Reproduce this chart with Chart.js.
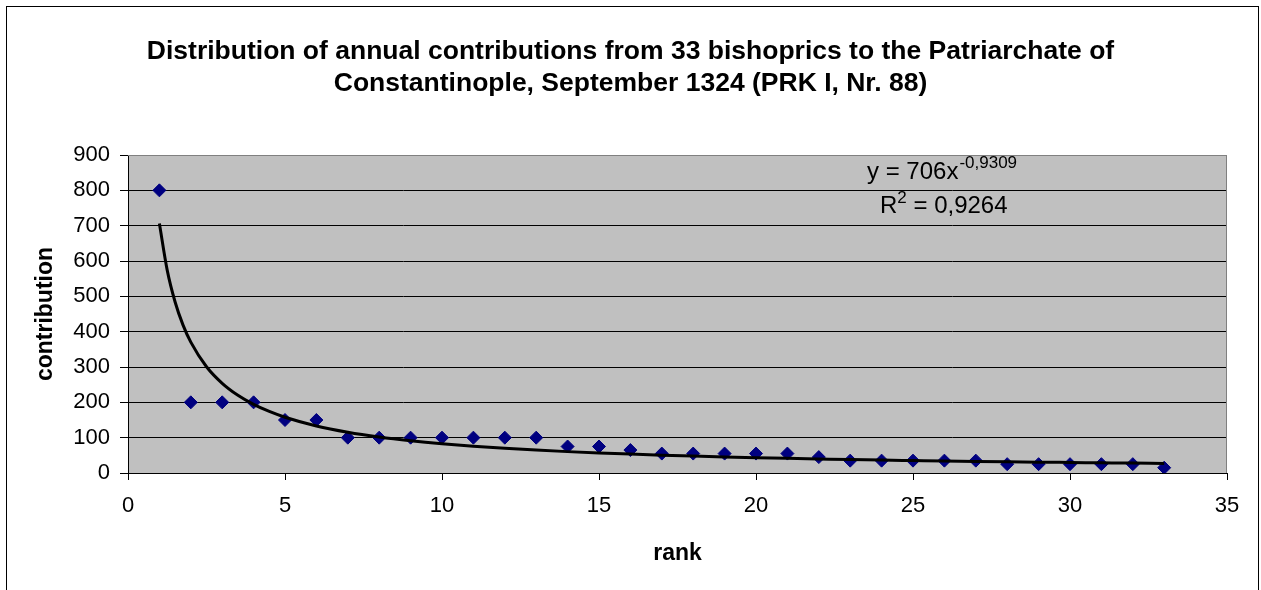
<!DOCTYPE html>
<html><head><meta charset="utf-8">
<script src="https://cdn.jsdelivr.net/npm/chart.js@4.4.1/dist/chart.umd.min.js"></script>
<style>html,body{margin:0;padding:0;background:#fff;overflow:hidden}</style>
</head><body><canvas id="c" width="1261" height="590"></canvas>
<script>
const ranks = [1,2,3,4,5,6,7,8,9,10,11,12,13,14,15,16,17,18,19,20,21,22,23,24,25,26,27,28,29,30,31,32,33];
const contributions = [800,200,200,200,150,150,100,100,100,100,100,100,100,75,75,65,55,55,55,55,55,45,35,35,35,35,35,25,25,25,25,25,15];
const trendRanks = [1,1.25,1.5,1.75,2,2.5,3,3.5,4,4.5,5,6,7,8,9,10,11,12,13,14,15,16,17,18,19,20,21,22,23,24,25,26,27,28,29,30,31,32,33];
const trendValues = [706,573.5,484.0,419.3,370.3,300.8,253.9,219.9,194.2,174.1,157.8,133.2,115.4,101.9,91.3,82.7,75.7,69.9,64.8,60.5,56.8,53.5,50.5,47.9,45.5,43.4,41.5,39.8,38.1,36.6,35.3,34.0,32.8,31.7,30.7,29.8,28.9,28.0,27.2];
const xTickValues = [0,5,10,15,20,25,30,35];
const yTickValues = [0,100,200,300,400,500,600,700,800,900];
const titleLines = ['Distribution of annual contributions from 33 bishoprics to the Patriarchate of','Constantinople, September 1324 (PRK I, Nr. 88)'];
const xTitle = 'rank';
const yTitle = 'contribution';
const equationText = 'y = 706x';
const equationExp = '-0,9309';
const r2Label = 'R';
const r2Exp = '2';
const r2Value = ' = 0,9264';

const FONT = "'Liberation Sans', Arial, sans-serif";

const decorPlugin = {
  id:'decor',
  beforeDraw(chart){const {ctx,chartArea:a}=chart;ctx.save();ctx.fillStyle='#C0C0C0';ctx.fillRect(a.left,a.top,a.right-a.left,a.bottom-a.top);ctx.restore();},
  beforeDatasetsDraw(chart){const {ctx,chartArea:a}=chart;ctx.save();ctx.strokeStyle='#808080';ctx.lineWidth=1;ctx.beginPath();ctx.moveTo(a.left,a.top+0.5);ctx.lineTo(a.right-0.5,a.top+0.5);ctx.lineTo(a.right-0.5,a.bottom);ctx.stroke();ctx.restore();},
  afterDraw(chart){const ctx=chart.ctx;ctx.save();
    ctx.strokeStyle='#000';ctx.lineWidth=1;ctx.strokeRect(6.5,6.5,1252,700);
    ctx.fillStyle='#000';
    ctx.textAlign='center';ctx.textBaseline='middle';
    ctx.font='bold 26.5px '+FONT;
    titleLines.forEach((t,i)=>ctx.fillText(t,630.5,52+i*32));
    ctx.textAlign='left';ctx.textBaseline='alphabetic';
    ctx.font='24px '+FONT;ctx.fillText(equationText,867,179);let w=ctx.measureText(equationText).width;
    ctx.font='17px '+FONT;ctx.fillText(equationExp,867+w+1,168);
    ctx.font='24px '+FONT;ctx.fillText(r2Label,880,213);w=ctx.measureText(r2Label).width;
    ctx.font='17px '+FONT;ctx.fillText(r2Exp,880+w,203);const w2=ctx.measureText(r2Exp).width;
    ctx.font='24px '+FONT;ctx.fillText(r2Value,880+w+w2,213);
    ctx.restore();}
};

new Chart(document.getElementById('c'),{
  type:'scatter',
  data:{datasets:[
    {label:'trend',data:trendRanks.map((x,i)=>({x,y:trendValues[i]})),showLine:true,borderColor:'#000',borderWidth:3,pointRadius:0,cubicInterpolationMode:'monotone',order:0},
    {label:'contribution',data:ranks.map((x,i)=>({x,y:contributions[i]})),pointStyle:'rectRot',pointRadius:6.5,backgroundColor:'#000080',borderColor:'#000080',borderWidth:1,showLine:false,order:1}
  ]},
  options:{
    responsive:false,animation:false,devicePixelRatio:1,
    layout:{padding:{left:10,right:34,top:155,bottom:17}},
    plugins:{legend:{display:false},tooltip:{enabled:false},title:{display:false}},
    scales:{
      x:{type:'linear',min:xTickValues[0],max:xTickValues[xTickValues.length-1],
        afterFit(s){s.height=100;},
        afterBuildTicks(s){s.ticks=xTickValues.map(v=>({value:v}));},
        ticks:{color:'#000',font:{family:FONT,size:22},padding:13},
        grid:{drawOnChartArea:false,drawTicks:true,tickLength:7,tickColor:'#000'},
        border:{display:true,color:'#000',width:1},
        title:{display:true,text:xTitle,color:'#000',font:{family:FONT,size:23,weight:'bold',lineHeight:1.2},padding:{top:0,bottom:6}}},
      y:{type:'linear',min:yTickValues[0],max:yTickValues[yTickValues.length-1],
        afterFit(s){s.width=118;},
        afterBuildTicks(s){s.ticks=yTickValues.map(v=>({value:v}));},
        ticks:{color:'#000',font:{family:FONT,size:22},padding:10},
        grid:{color:(c)=>c.tick&&c.tick.value===900?'#808080':'#000',lineWidth:1,drawTicks:true,tickLength:8,tickColor:'#000'},
        border:{display:true,color:'#000',width:1},
        title:{display:true,text:yTitle,color:'#000',font:{family:FONT,size:23,weight:'bold',lineHeight:1.2},padding:{top:22,bottom:0}}}
    }
  },
  plugins:[decorPlugin]
});
</script></body></html>
